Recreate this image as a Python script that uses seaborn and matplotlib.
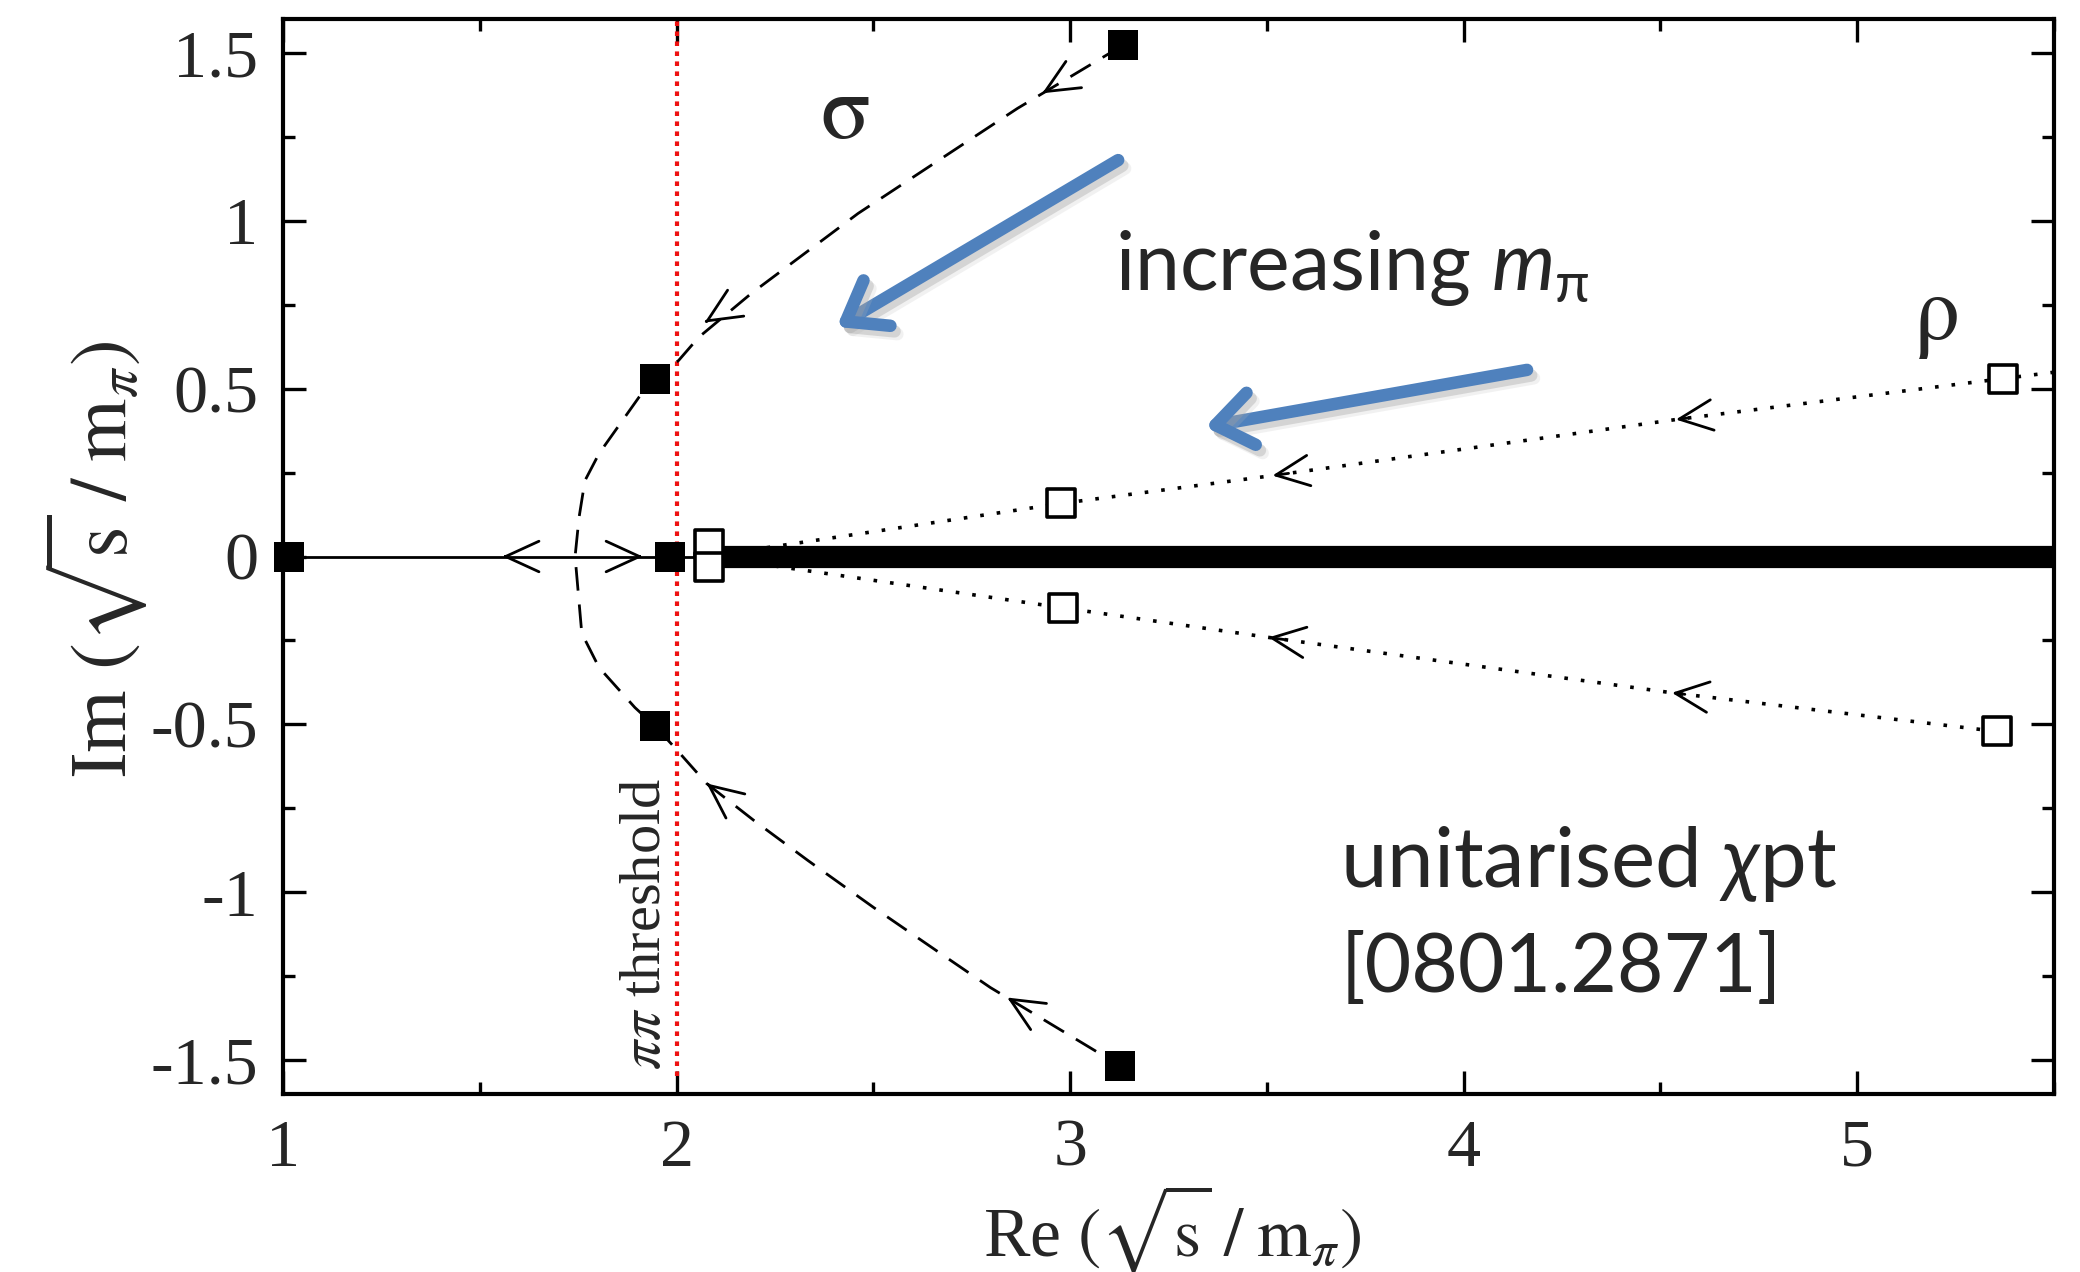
import numpy as np
import pandas as pd
import matplotlib
matplotlib.use("Agg")
import matplotlib.pyplot as plt
import matplotlib.patheffects as pe
from matplotlib.ticker import MultipleLocator, FuncFormatter
import seaborn as sns

# ---------------- data ----------------
# sigma pole trajectory (dashed), ordered from upper end to lower end
sigma_curve_x = [3.134, 2.866, 2.461, 2.190, 2.056, 2.005, 1.944, 1.904, 1.803, 1.767,
                 1.752, 1.742, 1.759, 1.803, 1.894, 1.944, 1.995, 2.076, 2.197, 2.334,
                 2.501, 2.671, 2.797, 3.084, 3.127]
sigma_curve_y = [1.523, 1.335, 1.022, 0.784, 0.653, 0.584, 0.530, 0.474, 0.307, 0.226,
                 0.116, 0.000, -0.229, -0.331, -0.450, -0.504, -0.569, -0.676, -0.787, -0.906,
                 -1.046, -1.183, -1.284, -1.487, -1.517]
# sigma poles (filled squares)
sigma_pole_x = [1.015, 1.984, 1.944, 1.946, 3.134, 3.127]
sigma_pole_y = [0.0, 0.0, 0.529, -0.505, 1.523, -1.517]
# sigma on real axis (thin solid)
sigma_axis_x = [1.0, 2.08]
sigma_axis_y = [0.0, 0.0]

# rho trajectories (dotted)
rho_upper_x = [5.50, 5.370, 4.539, 3.514, 2.977, 2.233, 2.10]
rho_upper_y = [0.549, 0.530, 0.408, 0.241, 0.158, 0.027, 0.004]
rho_lower_x = [5.354, 4.529, 3.504, 2.982, 2.230, 2.10]
rho_lower_y = [-0.521, -0.406, -0.241, -0.153, -0.025, -0.004]
# rho poles (open squares)
rho_pole_x = [5.370, 2.977, 2.082, 2.082, 2.982, 5.354]
rho_pole_y = [0.530, 0.158, 0.036, -0.030, -0.153, -0.521]
# branch cut (thick line)
cut_x = [2.08, 5.5]
cut_y = [0.0, 0.0]

# small direction arrows along the trajectories: tip and a point behind it
arrow_tip_x = [2.929, 2.071, 2.840, 2.076, 1.557, 1.914, 4.539, 3.514, 4.529, 3.504]
arrow_tip_y = [1.380, 0.697, -1.314, -0.676, 0.0, 0.0, 0.408, 0.241, -0.406, -0.241]
arrow_from_x = [3.134, 2.190, 3.084, 2.197, 1.90, 1.60, 5.370, 4.539, 5.354, 4.529]
arrow_from_y = [1.523, 0.784, -1.487, -0.787, 0.0, 0.0, 0.530, 0.408, -0.521, -0.406]

# blue "increasing m_pi" arrows (start -> tip)
blue_start_x = [3.122, 4.161]
blue_start_y = [1.181, 0.556]
blue_tip_x = [2.407, 3.343]
blue_tip_y = [0.684, 0.386]

threshold_x = 2.0
x_ticks = [1, 2, 3, 4, 5]
y_ticks = [-1.5, -1, -0.5, 0, 0.5, 1, 1.5]

# ---------------- style ----------------
sns.set_style("ticks")
plt.rcParams["font.family"] = ["Liberation Serif", "DejaVu Serif"]
plt.rcParams["axes.unicode_minus"] = False
plt.rcParams["mathtext.fontset"] = "custom"
plt.rcParams["mathtext.rm"] = "Lato"
plt.rcParams["mathtext.it"] = "Lato:italic"
plt.rcParams["mathtext.fallback"] = "stix"

fig = plt.figure(figsize=(20.8, 12.72), dpi=100)
ax = fig.add_axes([0.1361, 0.1403, 0.8514, 0.8444])

# branch cut
sns.lineplot(x=cut_x, y=cut_y, ax=ax, color="black", lw=16, sort=False,
             estimator=None, solid_capstyle="butt", zorder=2)
# sigma on the real axis
sns.lineplot(x=sigma_axis_x, y=sigma_axis_y, ax=ax, color="black", lw=2.0, sort=False,
             estimator=None, zorder=2)
# sigma dashed trajectory
sns.lineplot(x=sigma_curve_x, y=sigma_curve_y, ax=ax, color="black", lw=2.0, sort=False,
             estimator=None, linestyle=(0, (8.5, 5)), zorder=3)
# rho dotted trajectories
for xs, ys in [(rho_upper_x, rho_upper_y), (rho_lower_x, rho_lower_y)]:
    sns.lineplot(x=xs, y=ys, ax=ax, color="black", lw=2.6, sort=False,
                 estimator=None, linestyle=(0, (1, 3.6)), zorder=3)

# threshold line
ax.axvline(threshold_x, ymin=0.016, ymax=1.0, color="#ee1111", lw=3.0,
           linestyle=(0, (1.1, 1.3)), zorder=1)
ax.text(1.922, -1.53, r"$\pi\pi$ threshold", rotation=90, ha="center", va="bottom",
        fontsize=42, family="Liberation Serif", math_fontfamily="stix", zorder=4)

# small arrowheads
for tx, ty, fx, fy in zip(arrow_tip_x, arrow_tip_y, arrow_from_x, arrow_from_y):
    sx = tx + 0.04 * (fx - tx)
    sy = ty + 0.04 * (fy - ty)
    ax.annotate("", xy=(tx, ty), xytext=(sx, sy),
                arrowprops=dict(arrowstyle="->,head_length=2.4,head_width=1.1",
                                mutation_scale=10, lw=2.0, color="black",
                                shrinkA=0, shrinkB=0), zorder=4)

# markers
sns.scatterplot(x=sigma_pole_x, y=sigma_pole_y, ax=ax, marker="s", s=22 ** 2,
                color="black", edgecolor="black", linewidth=0, zorder=6, clip_on=False)
sns.scatterplot(x=rho_pole_x, y=rho_pole_y, ax=ax, marker="s", s=20 ** 2,
                facecolor="white", edgecolor="black", linewidth=2.6, zorder=6, clip_on=False)

# blue arrows with shadow
for sx, sy, tx, ty in zip(blue_start_x, blue_start_y, blue_tip_x, blue_tip_y):
    ax.annotate("", xy=(tx, ty), xytext=(sx, sy),
                arrowprops=dict(arrowstyle="->,head_length=1.3,head_width=0.95",
                                mutation_scale=20, lw=9, color="#4F81BD",
                                shrinkA=0, shrinkB=0, capstyle="round", joinstyle="round",
                                path_effects=[pe.SimpleLineShadow(offset=(3, -4), shadow_color="#999999", alpha=0.35),
                                              pe.SimpleLineShadow(offset=(5, -6), shadow_color="#bbbbbb", alpha=0.2),
                                              pe.Normal()]),
                zorder=7)

# annotations
ax.text(2.428, 1.310, "σ", fontsize=66, family="STIXGeneral", ha="center", va="center", zorder=7)
ax.text(5.203, 0.711, "ρ", fontsize=66, family="STIXGeneral", ha="center", va="center", zorder=7)
ax.text(3.114, 0.794, r"increasing $m_{\mathrm{\pi}}$", fontsize=58, family="Lato",
        ha="left", va="baseline", zorder=7)
ax.text(3.686, -0.985, r"unitarised $\chi$pt", fontsize=60, family="Lato",
        ha="left", va="baseline", zorder=7)
ax.text(3.686, -1.298, "[0801.2871]", fontsize=58, family="Lato",
        ha="left", va="baseline", zorder=7)

# axes
ax.set_xlim(1, 5.5)
ax.set_ylim(-1.6, 1.6)
ax.set_xticks(x_ticks)
ax.set_yticks(y_ticks)
ax.xaxis.set_minor_locator(MultipleLocator(0.5))
ax.yaxis.set_minor_locator(MultipleLocator(0.25))
fmt = FuncFormatter(lambda v, p: "%g" % v)
ax.xaxis.set_major_formatter(fmt)
ax.yaxis.set_major_formatter(fmt)
ax.tick_params(which="both", direction="in", top=True, right=True, width=2.4, color="black")
ax.tick_params(which="major", length=16.5, labelsize=49, pad=18)
ax.tick_params(which="minor", length=8.6)
for lab in ax.get_xticklabels() + ax.get_yticklabels():
    lab.set_family("Liberation Serif")
for sp in ax.spines.values():
    sp.set_linewidth(3.0)
    sp.set_color("black")
    sp.set_visible(True)

ax.set_xlabel(r"Re $(\sqrt{\mathrm{s}}\;/\;\mathrm{m}_{\pi})$", fontsize=50,
              family="Liberation Serif", math_fontfamily="stix")
ax.set_ylabel(r"Im $(\sqrt{\mathrm{s}}\;/\;\mathrm{m}_{\pi})$", fontsize=58,
              family="Liberation Serif", math_fontfamily="stix")
ax.xaxis.set_label_coords(0.502, -0.082)
ax.yaxis.set_label_coords(-0.075, 0.497)

fig.savefig("out.png", dpi=100)
